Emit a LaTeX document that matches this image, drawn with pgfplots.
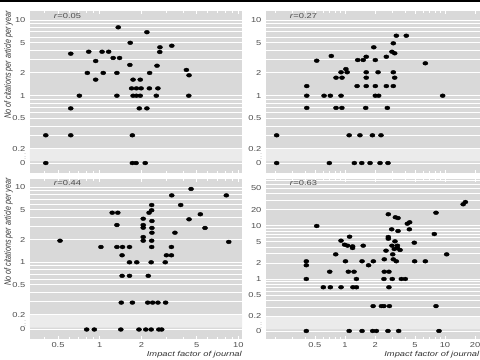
\documentclass[border=0pt]{standalone}
\usepackage{pgfplots}
\pgfplotsset{compat=1.18}
\usepackage{fontspec}
\setmainfont{Liberation Sans}
\definecolor{panelbg}{HTML}{D9D9D9}
\definecolor{band}{HTML}{EBEBEB}
\definecolor{ticktxt}{HTML}{4D4D4D}
\newcommand{\tkfont}{\fontsize{7.2}{8}\selectfont}
\begin{document}
\begin{tikzpicture}
\path[use as bounding box] (0bp,0bp) rectangle (480bp,360bp);
\fill[black] (0bp,358bp) rectangle (480bp,360bp);

% ---------------- top-left
\begin{axis}[scale only axis, xmode=log, ymode=log,
  axis background/.style={fill=panelbg}, axis line style={draw=none},
  ymajorgrids, yminorgrids,
  major grid style={white, line width=0.9bp}, minor grid style={white, line width=0.5bp},
  ytick style={draw=none}, xtick style={white, line width=0.6bp},
  tick align=inside, major tick length=3bp, minor tick length=2bp,
  tick label style={font=\tkfont, text=ticktxt, xscale=1.3},
  at={(30bp,187bp)}, anchor=south west, width=212bp, height=162bp,
  xmin=0.314, xmax=10.63, ymin=0.0953, ymax=13.15,
  xtick={0.5,1,2,5,10}, xticklabels={},
  minor xtick={0.4,0.6,0.7,0.8,0.9,3,4,6,7,8,9},
  ytick={0.129,0.2,0.5,1,2,5,10}, yticklabels={0,0.2,0.5,1,2,5,10},
  minor ytick={0.3,0.4,0.6,0.7,0.8,0.9,3,4,6,7,8,9},
  extra y ticks={0.163}, extra y tick labels={\scalebox{0.6}{$\vdots$}},
  extra y tick style={ymajorgrids=false, tick label style={inner sep=0pt, xshift=-3bp}}]
\addplot[draw=none, fill=band] coordinates {(0.314,0.2) (10.63,0.2) (10.63,0.137) (0.314,0.137) (0.314,0.2)};
\addplot[white, line width=0.9bp] coordinates {(0.314,0.2) (10.63,0.2)};
\addplot[white, line width=0.5bp, dashed] coordinates {(0.314,0.129) (10.63,0.129)};
\addplot[only marks, mark=*, mark size=1.9bp, mark options={xscale=1.35, fill=black, draw=black}] coordinates {
(1.36,8.0) (2.19,6.9) (1.66,5.0) (3.31,4.57) (2.72,4.36) (0.618,3.59) (0.833,3.81)
(1.04,3.81) (1.16,3.81) (2.71,3.78) (0.935,2.87) (1.25,3.15) (1.39,3.15) (1.65,2.55)
(2.59,2.49) (4.22,2.19) (4.41,1.86) (0.814,2.0) (1.06,2.0) (1.33,2.0) (2.29,2.0)
(0.935,1.63) (1.74,1.63) (1.96,1.63) (1.70,1.25) (1.84,1.25) (1.99,1.25) (2.28,1.25)
(2.63,1.25) (0.713,1.0) (1.33,1.0) (1.74,1.0) (1.84,1.0) (1.96,1.0) (2.56,1.0) (4.39,1.0)
(0.618,0.68) (1.93,0.68) (2.19,0.68) (0.408,0.30) (0.618,0.30) (1.72,0.30)
(0.408,0.129) (1.72,0.129) (1.83,0.129) (2.13,0.129)};
\end{axis}

% ---------------- top-right
\begin{axis}[scale only axis, xmode=log, ymode=log,
  axis background/.style={fill=panelbg}, axis line style={draw=none},
  ymajorgrids, yminorgrids,
  major grid style={white, line width=0.9bp}, minor grid style={white, line width=0.5bp},
  ytick style={draw=none}, xtick style={white, line width=0.6bp},
  tick align=inside, major tick length=3bp, minor tick length=2bp,
  tick label style={font=\tkfont, text=ticktxt, xscale=1.3},
  at={(266bp,187bp)}, anchor=south west, width=214bp, height=162bp,
  xmin=0.162, xmax=22.4, ymin=0.0953, ymax=13.15,
  xtick={0.5,1,2,5,10,20}, xticklabels={},
  minor xtick={0.2,0.3,0.4,0.6,0.7,0.8,0.9,3,4,6,7,8,9},
  ytick={0.129,0.2,0.5,1,2,5,10}, yticklabels={0,0.2,0.5,1,2,5,10},
  minor ytick={0.3,0.4,0.6,0.7,0.8,0.9,3,4,6,7,8,9},
  extra y ticks={0.163}, extra y tick labels={\scalebox{0.6}{$\vdots$}},
  extra y tick style={ymajorgrids=false, tick label style={inner sep=0pt, xshift=-3bp}}]
\addplot[draw=none, fill=band] coordinates {(0.162,0.2) (22.4,0.2) (22.4,0.137) (0.162,0.137) (0.162,0.2)};
\addplot[white, line width=0.9bp] coordinates {(0.162,0.2) (22.4,0.2)};
\addplot[white, line width=0.5bp, dashed] coordinates {(0.162,0.129) (22.4,0.129)};
\addplot[only marks, mark=*, mark size=1.9bp, mark options={xscale=1.35, fill=black, draw=black}] coordinates {
(3.26,6.2) (4.10,6.2) (1.94,4.36) (3.04,4.92) (2.95,3.81) (3.14,3.63) (2.59,3.27)
(0.729,3.35) (1.63,3.27) (0.521,2.90) (1.34,2.96) (1.52,2.96) (2.01,2.96) (6.36,2.68)
(1.02,2.25) (0.912,2.04) (1.05,2.04) (1.63,2.04) (2.14,2.04) (3.04,2.04)
(0.813,1.73) (0.933,1.73) (1.63,1.73) (3.14,1.73)
(0.414,1.34) (1.32,1.34) (1.63,1.34) (2.01,1.34) (2.59,1.34) (3.04,1.34)
(0.414,1.0) (0.617,1.0) (0.713,1.0) (0.912,1.0) (2.01,1.0) (2.17,1.0) (9.48,1.0)
(0.414,0.69) (0.813,0.69) (0.93,0.69) (1.61,0.69) (2.65,0.69)
(0.207,0.30) (1.10,0.30) (1.41,0.30) (1.88,0.30) (2.29,0.30)
(0.207,0.129) (0.697,0.129) (1.24,0.129) (1.47,0.129) (1.78,0.129) (2.24,0.129) (2.69,0.129)};
\end{axis}

% ---------------- bottom-left
\begin{axis}[scale only axis, xmode=log, ymode=log,
  axis background/.style={fill=panelbg}, axis line style={draw=none},
  ymajorgrids, yminorgrids,
  major grid style={white, line width=0.9bp}, minor grid style={white, line width=0.5bp},
  ytick style={draw=none}, xtick style={white, line width=0.6bp},
  tick align=inside, major tick length=3bp, minor tick length=2bp,
  tick label style={font=\tkfont, text=ticktxt, xscale=1.3},
  at={(30bp,21bp)}, anchor=south west, width=212bp, height=160bp,
  xmin=0.314, xmax=10.63, ymin=0.0949, ymax=12.9,
  xtick={0.5,1,2,5,10}, xticklabels={0.5,1,2,5,10},
  minor xtick={0.4,0.6,0.7,0.8,0.9,3,4,6,7,8,9},
  ytick={0.127,0.2,0.5,1,2,5,10}, yticklabels={0,0.2,0.5,1,2,5,10},
  minor ytick={0.3,0.4,0.6,0.7,0.8,0.9,3,4,6,7,8,9},
  extra y ticks={0.16}, extra y tick labels={\scalebox{0.6}{$\vdots$}},
  extra y tick style={ymajorgrids=false, tick label style={inner sep=0pt, xshift=-3bp}}]
\addplot[draw=none, fill=band] coordinates {(0.314,0.2) (10.63,0.2) (10.63,0.135) (0.314,0.135) (0.314,0.2)};
\addplot[white, line width=0.9bp] coordinates {(0.314,0.2) (10.63,0.2)};
\addplot[white, line width=0.5bp, dashed] coordinates {(0.314,0.127) (10.63,0.127)};
\addplot[only marks, mark=*, mark size=1.9bp, mark options={xscale=1.35, fill=black, draw=black}] coordinates {
(4.56,9.5) (3.31,7.8) (8.19,7.8) (3.84,5.8) (2.37,5.8) (2.37,4.94) (2.27,4.58)
(1.23,4.58) (1.35,4.58) (5.32,4.37) (4.41,3.74) (2.06,3.81) (2.38,3.55) (1.33,3.14)
(2.06,3.14) (2.06,2.89) (2.38,2.87) (5.75,2.87) (2.38,2.48) (3.49,2.48) (2.06,2.17)
(0.517,1.94) (2.06,1.94) (2.37,1.94) (8.53,1.87)
(1.02,1.6) (1.33,1.6) (1.46,1.6) (1.64,1.6) (2.37,1.6) (3.29,1.6)
(1.45,1.24) (3.03,1.24) (3.29,1.24)
(1.64,1.0) (1.85,1.0) (2.35,1.0) (2.97,1.0)
(1.45,0.66) (1.64,0.66) (2.24,0.66)
(1.43,0.29) (1.72,0.29) (2.22,0.29) (2.41,0.29) (2.63,0.29) (2.99,0.29)
(0.805,0.127) (0.914,0.127) (1.42,0.127) (1.92,0.127) (2.15,0.127) (2.35,0.127) (2.67,0.127) (2.80,0.127)};
\end{axis}

% ---------------- bottom-right
\begin{axis}[scale only axis, xmode=log, ymode=log,
  axis background/.style={fill=panelbg}, axis line style={draw=none},
  ymajorgrids, yminorgrids,
  major grid style={white, line width=0.9bp}, minor grid style={white, line width=0.5bp},
  ytick style={draw=none}, xtick style={white, line width=0.6bp},
  tick align=inside, major tick length=3bp, minor tick length=2bp,
  tick label style={font=\tkfont, text=ticktxt, xscale=1.3},
  at={(266bp,21bp)}, anchor=south west, width=214bp, height=160bp,
  xmin=0.162, xmax=22.4, ymin=0.0749, ymax=75.2,
  xtick={0.5,1,2,5,10,20}, xticklabels={0.5,1,2,5,10,20},
  minor xtick={0.2,0.3,0.4,0.6,0.7,0.8,0.9,3,4,6,7,8,9},
  ytick={0.106,0.2,0.5,1,2,5,10,20,50}, yticklabels={0,0.2,0.5,1,2,5,10,20,50},
  minor ytick={0.3,0.4,0.6,0.7,0.8,0.9,3,4,6,7,8,9,30,40,60,70},
  extra y ticks={0.145}, extra y tick labels={\scalebox{0.6}{$\vdots$}},
  extra y tick style={ymajorgrids=false, tick label style={inner sep=0pt, xshift=-3bp}}]
\addplot[draw=none, fill=band] coordinates {(0.162,0.2) (22.4,0.2) (22.4,0.113) (0.162,0.113) (0.162,0.2)};
\addplot[white, line width=0.9bp] coordinates {(0.162,0.2) (22.4,0.2)};
\addplot[white, line width=0.5bp, dashed] coordinates {(0.162,0.106) (22.4,0.106)};
\addplot[only marks, mark=*, mark size=1.9bp, mark options={xscale=1.35, fill=black, draw=black}] coordinates {
(15.2,25.2) (16.0,27.8) (8.13,17.5) (2.71,16.4) (3.19,14.4) (3.39,13.9) (4.20,10.9)
(4.43,11.6) (0.521,9.87) (2.93,8.55) (4.40,8.55) (3.39,7.95) (7.82,6.98) (2.71,6.14)
(2.71,5.70) (1.11,6.22) (0.912,5.24) (3.16,5.09) (4.93,4.80) (0.99,4.40) (1.06,4.22)
(1.19,4.10) (1.19,3.82) (1.52,4.22) (2.95,4.22) (3.34,4.22) (3.34,3.82) (3.55,3.50)
(2.57,3.40) (3.11,3.65) (0.807,2.90) (3.0,2.90) (10.4,2.90)
(0.41,2.15) (0.41,1.81) (1.01,2.15) (1.48,2.15) (1.92,2.15) (2.47,2.34) (3.04,2.34)
(3.26,2.15) (4.97,2.15) (6.36,2.15) (1.72,1.81)
(0.703,1.37) (1.08,1.37) (1.23,1.37) (2.47,1.37) (2.75,1.37)
(0.41,1.0) (1.30,1.0) (2.45,1.0) (2.97,1.0) (3.66,1.0) (4.01,1.0)
(0.607,0.70) (0.713,0.70) (0.912,0.70) (1.20,0.70) (1.30,0.70) (2.75,0.70)
(1.91,0.31) (2.31,0.31) (2.45,0.31) (2.78,0.31) (8.13,0.31)
(0.41,0.106) (1.10,0.106) (1.48,0.106) (1.89,0.106) (2.06,0.106) (2.69,0.106) (3.44,0.106) (8.71,0.106)};
\end{axis}

% ---------------- texts
\node[font=\tkfont, text=ticktxt, xscale=1.3] at (67.5bp,344.3bp) {\textit{r}=0.05};
\node[font=\tkfont, text=ticktxt, xscale=1.3] at (303.5bp,344.3bp) {\textit{r}=0.27};
\node[font=\tkfont, text=ticktxt, xscale=1.3] at (67.5bp,176.7bp) {\textit{r}=0.44};
\node[font=\tkfont, text=ticktxt, xscale=1.3] at (303.5bp,176.7bp) {\textit{r}=0.63};
\node[font=\tkfont\itshape, text=black!80, rotate=90, yscale=1.3, anchor=east, inner sep=0pt] at (8.5bp,349bp) {No of citations per article per year};
\node[font=\tkfont\itshape, text=black!80, rotate=90, yscale=1.3, anchor=east, inner sep=0pt] at (8.5bp,182bp) {No of citations per article per year};
\node[font=\tkfont\itshape, text=black!80, xscale=1.3, anchor=east, inner sep=0pt] at (242bp,5bp) {Impact factor of journal};
\node[font=\tkfont\itshape, text=black!80, xscale=1.3, anchor=east, inner sep=0pt] at (479.5bp,5bp) {Impact factor of journal};
\end{tikzpicture}
\end{document}
